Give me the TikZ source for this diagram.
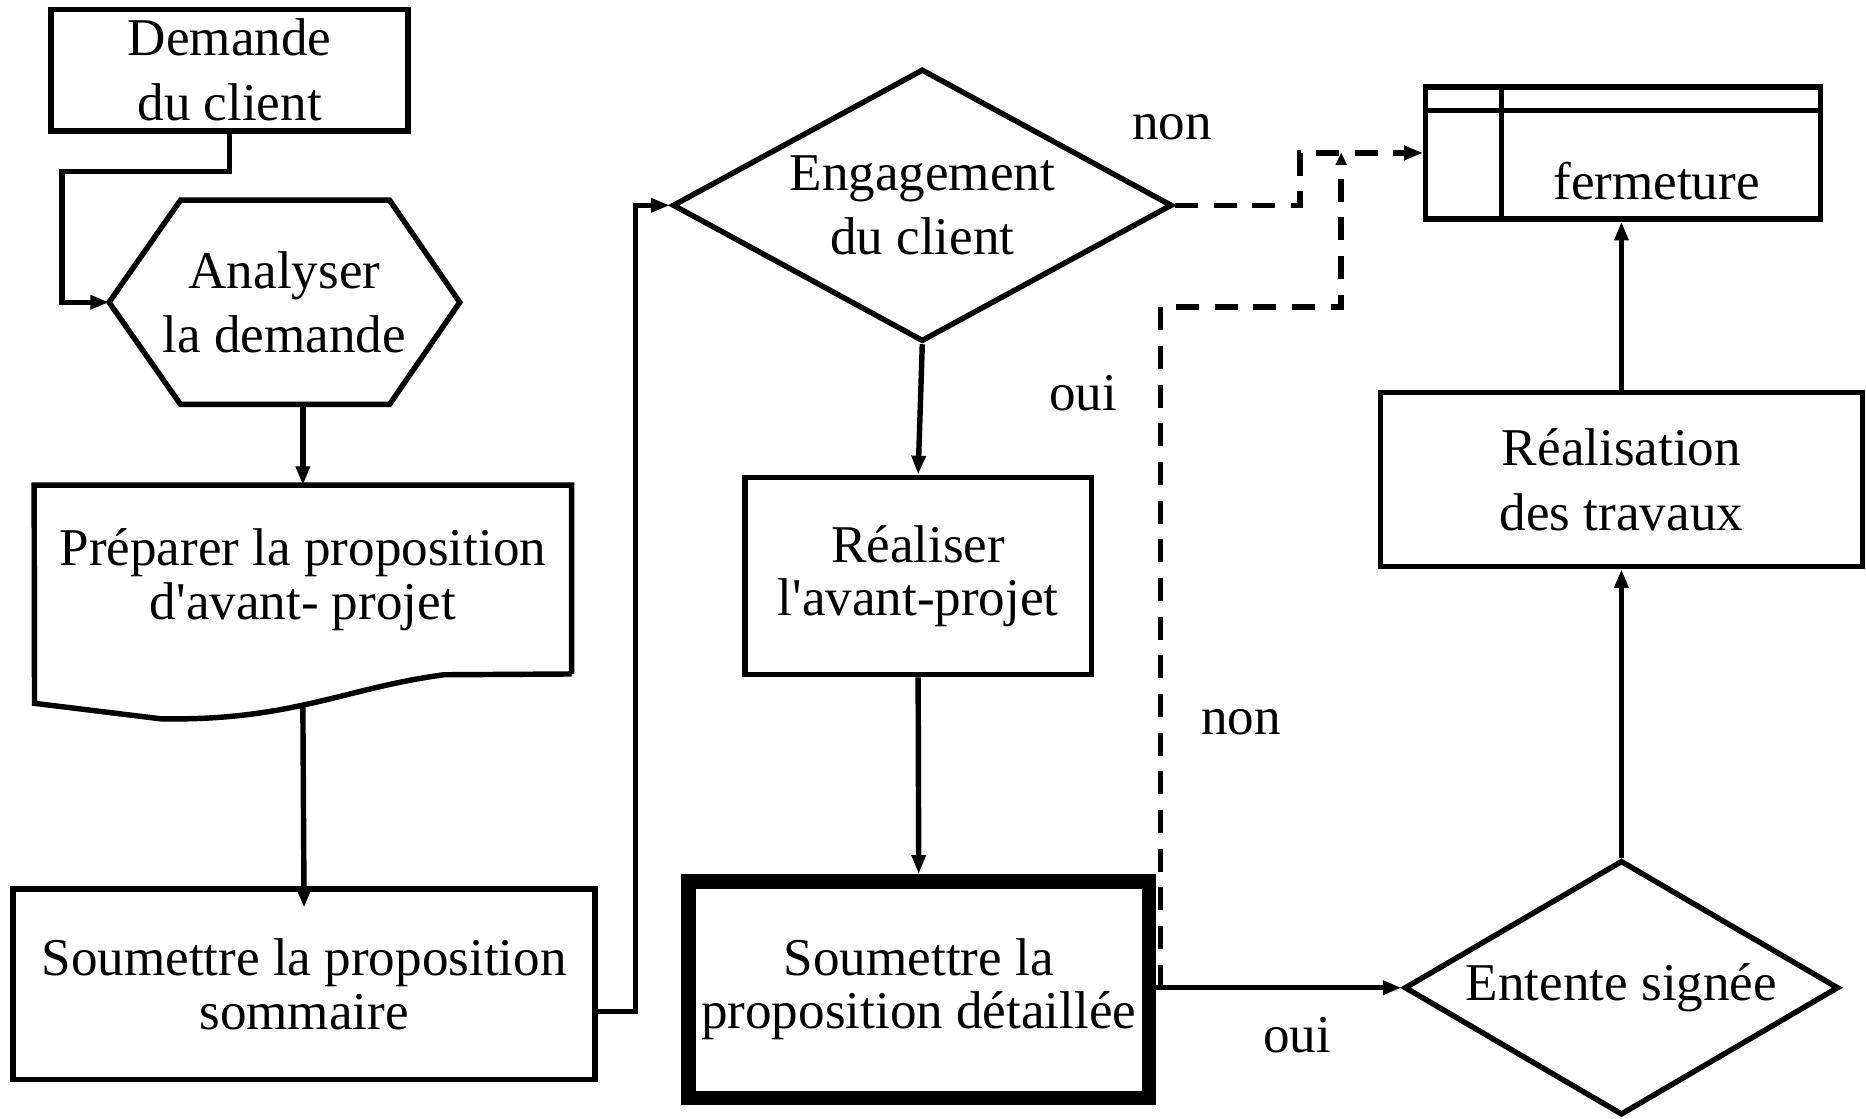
\documentclass[tikz,border=0pt]{standalone}
\usepackage{fontspec}
\setmainfont{Liberation Serif}[Ligatures=TeXOff]
\usetikzlibrary{arrows.meta,shapes.geometric,calc}
\begin{document}
\begin{tikzpicture}[x=0.02cm,y=-0.02cm,
  ln/.style={line width=2.6pt},
  arr/.style={ln,-{Triangle[length=9pt,width=6.5pt]}},
  dsh/.style={line width=2.6pt,dash pattern=on 11pt off 7.5pt},
  txt/.style={align=center,inner sep=0pt,font=\fontsize{25.4}{31}\selectfont},
  tight/.style={font=\fontsize{25.4}{25.5}\selectfont},
  box/.style={txt,draw,ln,rectangle},
  dia/.style={txt,draw,ln,diamond},
  lbl/.style={font=\fontsize{25.4}{30}\selectfont,inner sep=0pt}]
\useasboundingbox (0,0) rectangle (1568,940);

% Demande du client
\node[box,minimum width=6cm,minimum height=2.04cm] (dem) at (193,59) {Demande\\du client};

% Analyser la demande (hexagon)
\node[txt,minimum width=5.88cm,minimum height=3.42cm] (ana) at (239,254) {Analyser\\la demande};
\draw[ln,line join=miter] (ana.west) -- ($(ana.north west)+(60,0)$) -- ($(ana.north east)+(-59,0)$) -- (ana.east) -- ($(ana.south east)+(-59,0)$) -- ($(ana.south west)+(60,0)$) -- cycle;

\draw[arr] (dem.south) -- ++(0,32) -- ++(-141,0) |- (ana.west);

% Preparer (document shape)
\node[txt,tight,minimum width=9.02cm,minimum height=3.16cm] (prep) at (254.5,487) {Préparer la proposition\\d'avant- projet};
\draw[ln,line join=miter] (prep.south east) -- (prep.north east) -- (prep.north west) -- (29,591) -- (135,604) .. controls (245,606) and (290,578) .. (373,567) -- (prep.south east);
\coordinate (prepB) at (254.5,594);

\draw[arr] (ana.south -| prep.north) -- (prep.north);

% Soumettre sommaire
\node[box,tight,minimum width=9.78cm,minimum height=3.2cm] (som) at (255.5,827) {Soumettre la proposition\\sommaire};
\draw[arr] (prepB) -- ($(som.north)+(0,18)$);

% Engagement du client
\node[dia,aspect=1.83,minimum width=8.4cm,minimum height=4.58cm] (eng) at (775,172.5) {Engagement\\du client};
\draw[arr] ($(som.east)+(0,23)$) -- ++(32,0) |- (eng.west);

% Realiser
\node[box,tight,minimum width=5.82cm,minimum height=3.32cm] (real) at (771.5,484) {Réaliser\\l'avant-projet};
\draw[arr] (eng.south) -- (real.north);

% Soumettre detaillee
\node[box,tight,line width=7pt,minimum width=7.74cm,minimum height=3.64cm] (det) at (772,831.5) {Soumettre la\\proposition détaillée};
\draw[arr] (real.south) -- (det.north);

% Entente signee
\node[dia,aspect=1.7,minimum width=7.3cm,minimum height=4.28cm] (ent) at (1362.5,830) {Entente signée};
\draw[arr] (det.east |- ent.west) -- (ent.west);

% Realisation des travaux
\node[box,minimum width=8.1cm,minimum height=2.92cm] (realis) at (1362.5,403) {Réalisation\\des travaux};
\draw[arr] (ent.north) -- (realis.south);

% fermeture
\node[draw,ln,minimum width=6.64cm,minimum height=2.22cm,inner sep=0pt] (ferm) at (1364,128.5) {};
\draw[ln] ($(ferm.north west)+(0,22)$) -- ($(ferm.north east)+(0,22)$);
\draw[ln] ($(ferm.north west)+(66,0)$) -- ($(ferm.south west)+(66,0)$);
\node[lbl] (fermT) at (1392,152) {fermeture};
\draw[arr] (realis.north) -- (realis.north |- ferm.south);

% dashed connectors
\coordinate (jn) at (975,830);
\coordinate (mrg) at (1127,128);
\draw[dsh,-{Triangle[length=9pt,width=6.5pt]}] (eng.east) -- ++(105,0) |- (ferm.west);
\draw[dsh,-{Triangle[length=6pt,width=5pt]}] (jn) -- ++(0,-572) -- ++(152,0) -- (mrg);

% labels
\node[lbl] (l1) at (985,107) {non};
\node[lbl] (l2) at (910,330) {oui};
\node[lbl] (l3) at (1043,607) {non};
\node[lbl] (l4) at (1090,870) {oui};
\end{tikzpicture}
\end{document}
